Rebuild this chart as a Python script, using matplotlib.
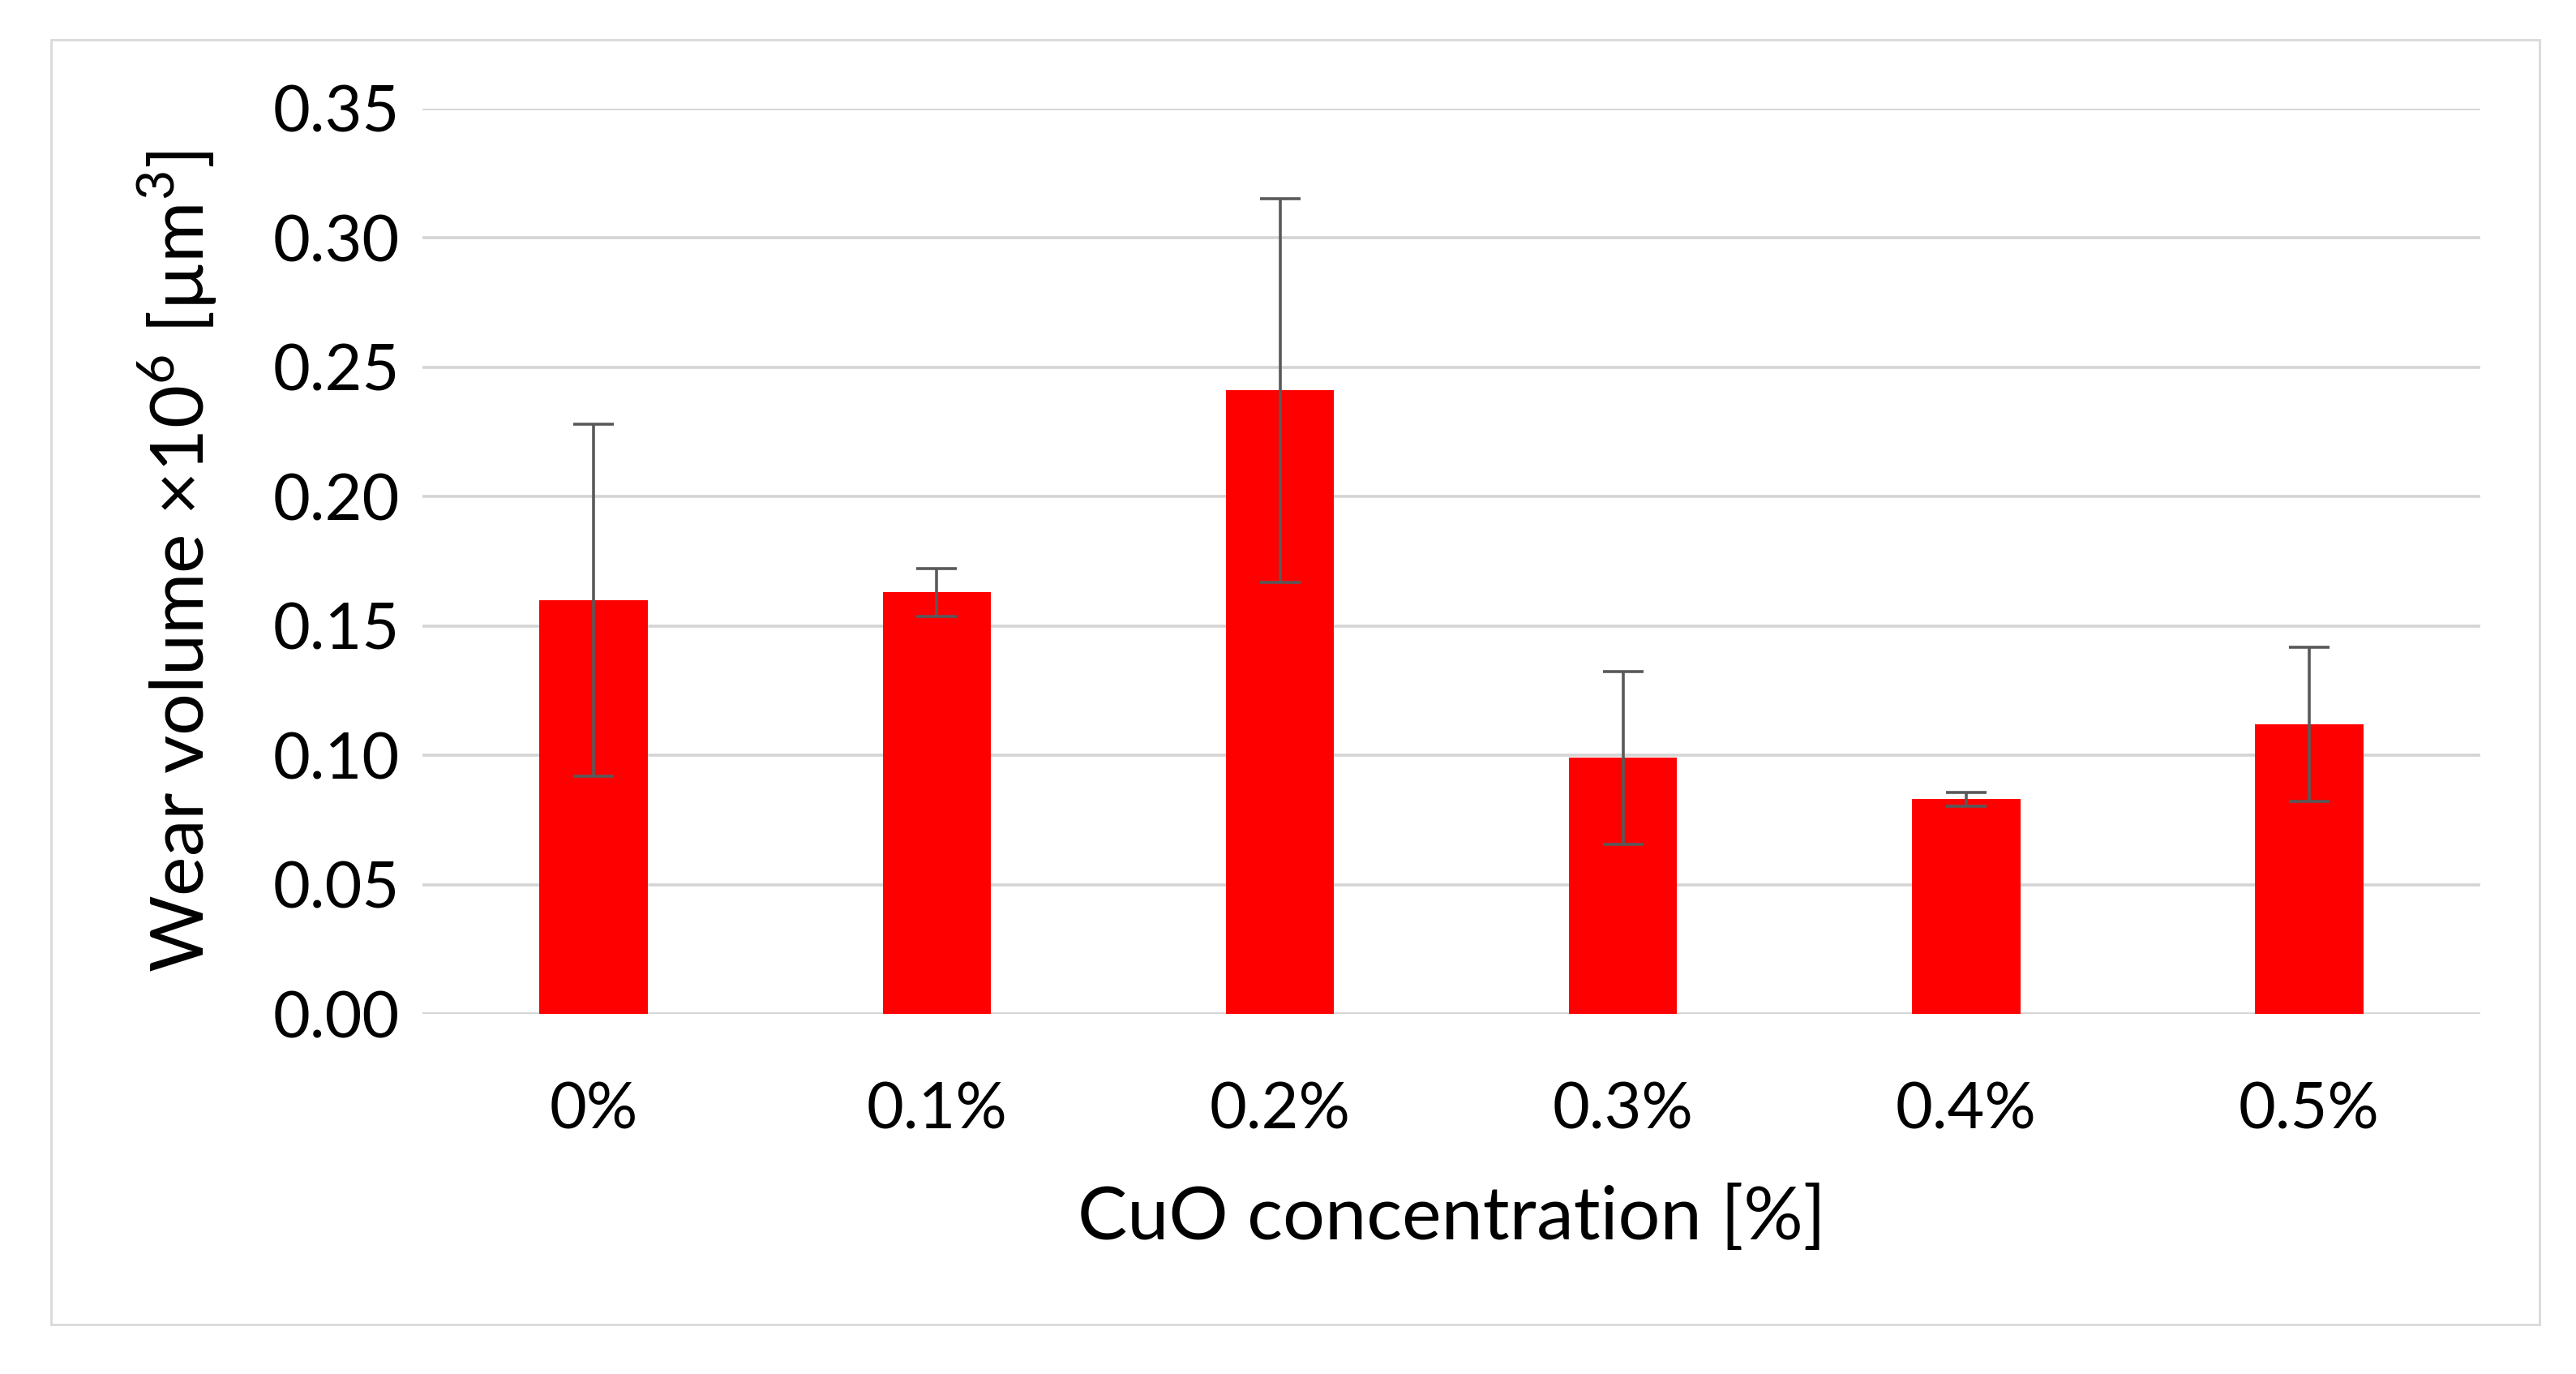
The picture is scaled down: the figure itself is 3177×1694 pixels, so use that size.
import matplotlib
matplotlib.use("Agg")
import matplotlib.pyplot as plt
from matplotlib.patches import Rectangle
import numpy as np

plt.rcParams['font.family'] = ['Lato', 'DejaVu Sans']
plt.rcParams['mathtext.fontset'] = 'custom'
plt.rcParams['mathtext.rm'] = 'Lato'

# datos
concentraciones = ['0%', '0.1%', '0.2%', '0.3%', '0.4%', '0.5%']
volumen = [0.160, 0.163, 0.241, 0.099, 0.083, 0.112]
error = [0.068, 0.0092, 0.074, 0.0335, 0.0026, 0.0297]
marcas_y = [0.00, 0.05, 0.10, 0.15, 0.20, 0.25, 0.30, 0.35]

fig = plt.figure(figsize=(15.885, 8.47), dpi=200)
ax = fig.add_axes([0.1639, 0.262, 0.963 - 0.1639, 0.921 - 0.262])

# marco exterior gris claro
fig.patches.append(Rectangle((31 / 1568, 1 - 806 / 836), (1546 - 31) / 1568, (806 - 24) / 836,
                             transform=fig.transFigure, fill=False,
                             edgecolor='#d9d9d9', linewidth=1.0))

x = np.arange(len(concentraciones))
ax.bar(x, volumen, width=0.316, color='#ff0000', zorder=3)
ax.errorbar(x, volumen, yerr=error, fmt='none', ecolor='#595959',
            elinewidth=1.3, capsize=9, capthick=1.3, zorder=4)

ax.set_xlim(-0.5, len(concentraciones) - 0.5)
ax.set_ylim(0, 0.35)
ax.set_yticks(marcas_y)
ax.set_yticklabels([f'{v:.2f}' for v in marcas_y])
ax.set_xticks(x)
ax.set_xticklabels(concentraciones)

ax.grid(axis='y', color='#d4d4d4', linewidth=1.3, zorder=0)
ax.set_axisbelow(True)
for s in ax.spines.values():
    s.set_visible(False)
ax.tick_params(axis='both', length=0, labelsize=28.5)
ax.tick_params(axis='x', pad=30)
ax.tick_params(axis='y', pad=10)

ax.set_xlabel('CuO concentration [%]', fontsize=33, labelpad=20)
ax.set_ylabel(r'Wear volume ×10$^{\mathregular{6}}$ [µm$^{\mathregular{3}}$]', fontsize=33, labelpad=24)

fig.savefig('out.png', dpi=200)
